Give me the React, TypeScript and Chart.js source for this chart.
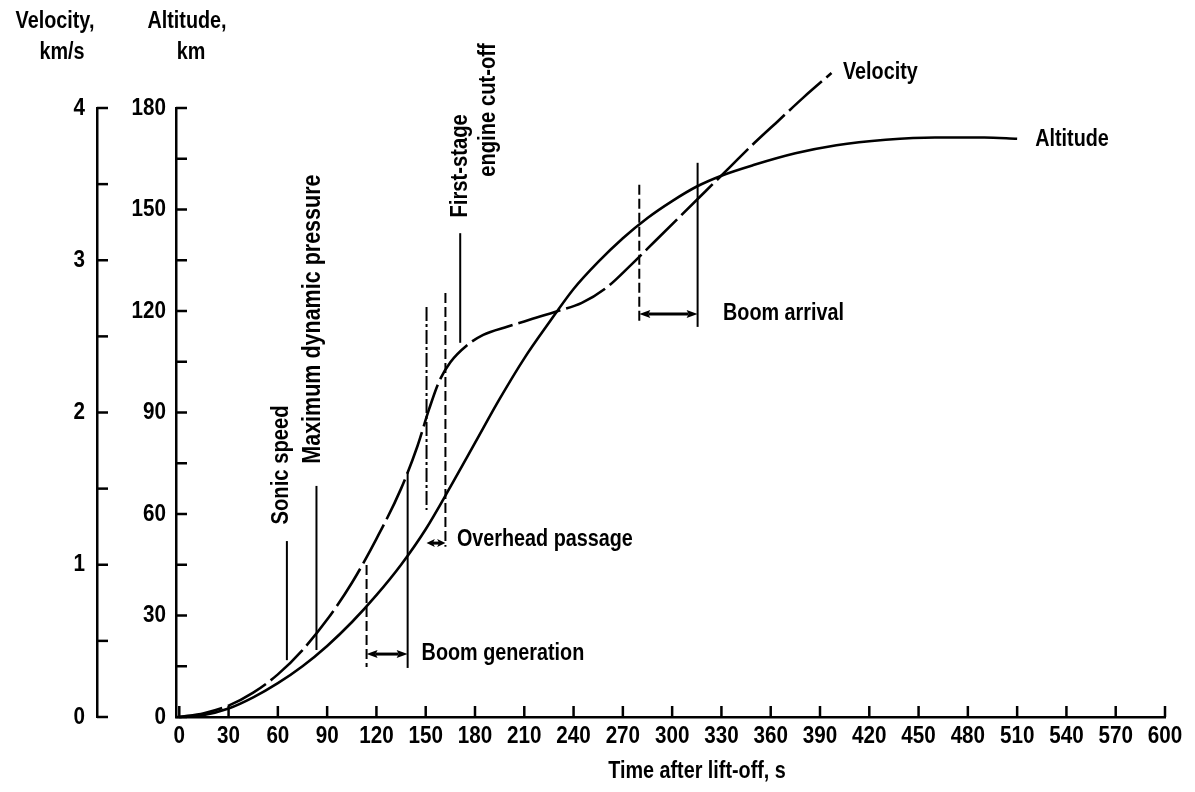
import React, { useEffect, useRef } from "react";
import { Chart, registerables } from "chart.js";

Chart.register(...registerables);

const FAMILY = "'Liberation Sans', Arial, sans-serif";
const CONDENSE = 0.86;

// ---- axis ticks ----
const timeTicks = [0, 30, 60, 90, 120, 150, 180, 210, 240, 270, 300, 330, 360, 390, 420, 450, 480, 510, 540, 570, 600];
const altitudeTicks = [0, 15, 30, 45, 60, 75, 90, 105, 120, 135, 150, 165, 180];
const altitudeTickLabels = ["0", "30", "60", "90", "120", "150", "180"];
const velocityTicks = [0, 0.5, 1, 1.5, 2, 2.5, 3, 3.5, 4];
const velocityTickLabels = ["0", "1", "2", "3", "4"];

// ---- series ----
const altitudeTimes = [0, 15, 30, 45, 60, 75, 90, 105, 120, 135, 150, 165, 180, 195, 210, 225, 240, 255, 270, 285, 300, 315, 330, 350, 375, 400, 430, 460, 490, 510];
const altitudeKm = [0, 0.6, 2.5, 5.8, 10, 15, 21, 28, 36, 45, 55.5, 68, 81, 94, 106, 116.5, 126.5, 134.5, 141.5, 147.5, 152.5, 156.8, 160, 163.2, 166.6, 169, 170.6, 171.3, 171.3, 170.9];

const velocityTimes = [0, 15, 30, 45, 60, 75, 90, 105, 120, 135, 145, 152, 158, 165, 175, 185, 200, 215, 230, 245, 260, 275, 290, 305, 320, 335, 350, 365, 380, 397];
const velocityKmS = [0, 0.025, 0.075, 0.16, 0.28, 0.44, 0.64, 0.88, 1.17, 1.5, 1.78, 2.02, 2.2, 2.33, 2.44, 2.51, 2.565, 2.615, 2.665, 2.72, 2.82, 2.97, 3.13, 3.29, 3.45, 3.61, 3.77, 3.92, 4.07, 4.23];

// ---- event marker lines (time s, top km, bottom km, style) ----
const markerTimes = [65.5, 83.5, 114, 139, 150.5, 162, 171, 280, 315.5];
const markerTopKm = [52.0, 68.3, 44.9, 72.4, 121.2, 125.3, 143.0, 157.3, 163.8];
const markerBottomKm = [16.8, 19.8, 14.8, 14.5, 61.2, 50.3, 110.6, 115.9, 115.3];
const markerStyles = ["solid", "solid", "dashed", "solid", "dashdot", "dashed", "solid", "dashed", "solid"];

// ---- intervals with double arrows ----
const intervalLabels = ["Boom generation", "Overhead passage", "Boom arrival"];
const intervalStart = [114, 150.5, 280];
const intervalEnd = [139, 162, 315.5];
const intervalLevelKm = [18.6, 51.4, 119.1];
const intervalLabelTime = [147.5, 169, 331];
const intervalLabelKm = [18.6, 52.3, 119.1];

// ---- rotated event labels ----
const eventLabels = ["Sonic speed", "Maximum dynamic pressure", "First-stage", "engine cut-off"];
const eventLabelTime = [62.1, 81.5, 171, 188];
const eventLabelKm = [74.5, 117.6, 162.9, 179.4];

// ---- curve labels ----
const curveLabels = ["Velocity", "Altitude"];
const curveLabelTime = [404, 521];
const curveLabelKm = [190.4, 170.6];

function condText(
  ctx: CanvasRenderingContext2D,
  s: string,
  x: number,
  y: number,
  align: CanvasTextAlign,
  rotate = false
) {
  ctx.save();
  ctx.translate(x, y);
  if (rotate) ctx.rotate(-Math.PI / 2);
  ctx.scale(CONDENSE, 1);
  ctx.textAlign = align;
  ctx.fillText(s, 0, 0);
  ctx.restore();
}

const overlayPlugin = {
  id: "overlay",
  afterDraw(chart: any) {
    const ctx = chart.ctx as CanvasRenderingContext2D;
    const xs = chart.scales.x;
    const ya = chart.scales.yAlt;
    const yv = chart.scales.yVel;
    const X = (t: number) => xs.getPixelForValue(t);
    const Y = (km: number) => ya.getPixelForValue(km);
    const seg = (x1: number, y1: number, x2: number, y2: number) => {
      ctx.beginPath();
      ctx.moveTo(x1, y1);
      ctx.lineTo(x2, y2);
      ctx.stroke();
    };
    ctx.save();
    ctx.strokeStyle = "#000";
    ctx.fillStyle = "#000";
    ctx.lineCap = "butt";
    ctx.textBaseline = "middle";

    // inward tick marks + tick labels
    ctx.lineWidth = 2.5;
    const TL = 11;
    ctx.font = `bold 24px ${FAMILY}`;
    xs.ticks.forEach((t: any) => {
      const px = X(t.value);
      seg(px, xs.top, px, xs.top - TL);
      condText(ctx, String(t.value), px, xs.top + 19, "center");
    });
    ya.ticks.forEach((t: any) => {
      const py = ya.getPixelForValue(t.value);
      seg(ya.right, py, ya.right + TL, py);
      const lab = String(t.value);
      if (altitudeTickLabels.includes(lab)) condText(ctx, lab, ya.right - 10, py, "right");
    });
    yv.ticks.forEach((t: any) => {
      const py = yv.getPixelForValue(t.value);
      seg(yv.right, py, yv.right + TL, py);
      const lab = String(t.value);
      if (velocityTickLabels.includes(lab)) condText(ctx, lab, yv.right - 12, py, "right");
    });

    // marker lines
    ctx.lineWidth = 2;
    markerTimes.forEach((t, i) => {
      const st = markerStyles[i];
      if (st === "dashed") ctx.setLineDash([10, 4]);
      else if (st === "dashdot") ctx.setLineDash([14, 3, 3, 3]);
      else ctx.setLineDash([]);
      seg(X(t), Y(markerTopKm[i]), X(t), Y(markerBottomKm[i]));
    });
    ctx.setLineDash([]);

    // double arrows
    ctx.lineWidth = 3;
    intervalStart.forEach((t0, i) => {
      const x1 = X(t0);
      const x2 = X(intervalEnd[i]);
      const y = Y(intervalLevelKm[i]);
      const h = Math.min(9, (x2 - x1) / 3);
      seg(x1 + h, y, x2 - h, y);
      ctx.beginPath();
      ctx.moveTo(x1, y);
      ctx.lineTo(x1 + h + 2, y - 4);
      ctx.lineTo(x1 + h, y);
      ctx.lineTo(x1 + h + 2, y + 4);
      ctx.closePath();
      ctx.fill();
      ctx.beginPath();
      ctx.moveTo(x2, y);
      ctx.lineTo(x2 - h - 2, y - 4);
      ctx.lineTo(x2 - h, y);
      ctx.lineTo(x2 - h - 2, y + 4);
      ctx.closePath();
      ctx.fill();
    });

    // texts
    ctx.font = `bold 23px ${FAMILY}`;
    intervalLabels.forEach((s, i) => {
      condText(ctx, s, X(intervalLabelTime[i]), Y(intervalLabelKm[i]), "left");
    });
    curveLabels.forEach((s, i) => {
      condText(ctx, s, X(curveLabelTime[i]), Y(curveLabelKm[i]), "left");
    });
    eventLabels.forEach((s, i) => {
      ctx.font = i === 1 ? `bold 25px ${FAMILY}` : `bold 23.5px ${FAMILY}`;
      condText(ctx, s, X(eventLabelTime[i]), Y(eventLabelKm[i]), "center", true);
    });

    // axis titles
    ctx.font = `bold 23px ${FAMILY}`;
    condText(ctx, "Velocity,", 55, 22, "center");
    condText(ctx, "km/s", 62, 53, "center");
    condText(ctx, "Altitude,", 187, 22, "center");
    condText(ctx, "km", 191, 53, "center");
    condText(ctx, "Time after lift-off, s", 697, 772, "center");
    ctx.restore();
  },
};

export default function App() {
  const ref = useRef<HTMLCanvasElement | null>(null);
  useEffect(() => {
    if (!ref.current) return;
    const chart = new Chart(ref.current, {
      type: "line",
      data: {
        datasets: [
          {
            label: "Altitude",
            data: altitudeTimes.map((t, i) => ({ x: t, y: altitudeKm[i] })),
            yAxisID: "yAlt",
            borderColor: "#000",
            borderWidth: 2.6,
            pointRadius: 0,
            cubicInterpolationMode: "monotone",
            clip: false,
            fill: false,
          },
          {
            label: "Velocity",
            data: velocityTimes.map((t, i) => ({ x: t, y: velocityKmS[i] })),
            yAxisID: "yVel",
            borderColor: "#000",
            borderWidth: 2.6,
            borderDash: [44, 6],
            pointRadius: 0,
            cubicInterpolationMode: "monotone",
            clip: false,
            fill: false,
          },
        ],
      },
      options: {
        responsive: false,
        animation: false,
        devicePixelRatio: 1,
        layout: { padding: { top: 108, right: 30, left: 0, bottom: 0 } },
        plugins: { legend: { display: false }, tooltip: { enabled: false }, title: { display: false } },
        scales: {
          x: {
            type: "linear",
            position: "bottom",
            min: -2,
            max: 600,
            afterBuildTicks: (s: any) => {
              s.ticks = timeTicks.map((v) => ({ value: v }));
            },
            afterFit: (s: any) => {
              s.height = 75;
            },
            grid: { display: false, drawTicks: false },
            border: { display: true, color: "#000", width: 2.5 },
            ticks: { display: false },
          },
          yAlt: {
            type: "linear",
            position: "left",
            weight: 0,
            min: 0,
            max: 180,
            afterBuildTicks: (s: any) => {
              s.ticks = altitudeTicks.map((v) => ({ value: v }));
            },
            afterFit: (s: any) => {
              s.width = 79;
            },
            grid: { display: false, drawTicks: false },
            border: { display: true, color: "#000", width: 2.5 },
            ticks: { display: false },
          },
          yVel: {
            type: "linear",
            position: "left",
            weight: 1,
            min: 0,
            max: 4,
            afterBuildTicks: (s: any) => {
              s.ticks = velocityTicks.map((v) => ({ value: v }));
            },
            afterFit: (s: any) => {
              s.width = 97;
            },
            grid: { display: false, drawTicks: false },
            border: { display: true, color: "#000", width: 2.5 },
            ticks: { display: false },
          },
        },
      },
      plugins: [overlayPlugin],
    } as any);
    return () => chart.destroy();
  }, []);
  return (
    <div>
      <canvas
        ref={ref}
        width={1195}
        height={792}
        style={{ position: "fixed", left: 0, top: 0, width: 1195, height: 792, background: "#fff" }}
      />
    </div>
  );
}
